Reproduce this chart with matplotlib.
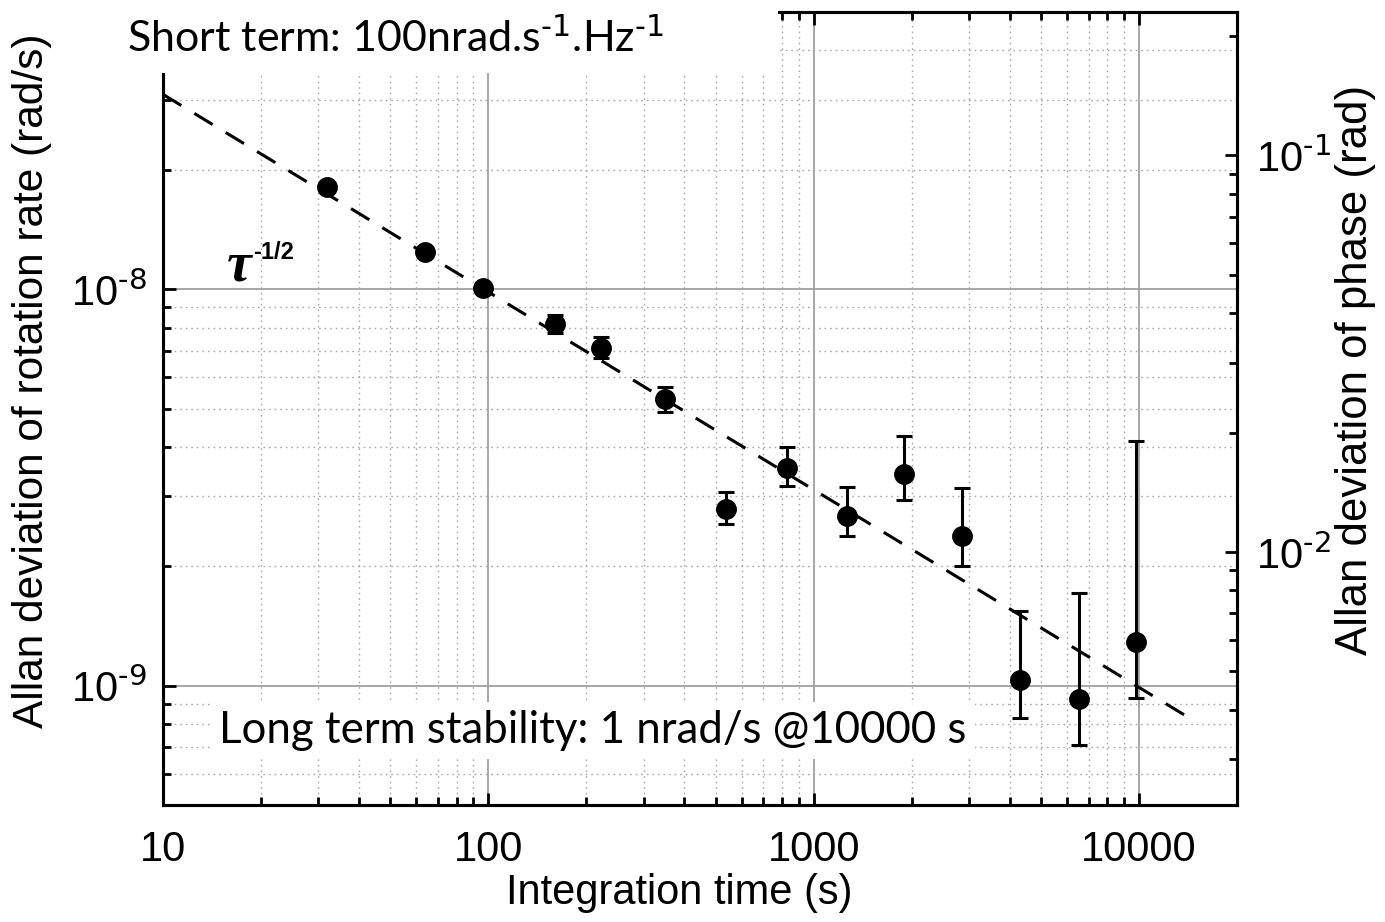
import math
import matplotlib
matplotlib.use("Agg")
import matplotlib.pyplot as plt
from matplotlib.ticker import LogLocator, FixedLocator, FuncFormatter, NullFormatter
from matplotlib.patches import Rectangle

# integration time (s) and Allan deviation of rotation rate (rad/s)
tau = [32, 64, 96, 160, 222, 349, 537, 826, 1262, 1901, 2864, 4315, 6547, 9795]
adev = [1.81e-8, 1.238e-8, 1.006e-8, 8.17e-9, 7.12e-9, 5.30e-9, 2.79e-9,
        3.54e-9, 2.68e-9, 3.42e-9, 2.38e-9, 1.035e-9, 9.28e-10, 1.289e-9]
adev_lo = [1.77e-8, 1.21e-8, 0.985e-8, 7.76e-9, 6.72e-9, 4.89e-9, 2.56e-9,
           3.19e-9, 2.38e-9, 2.94e-9, 2.00e-9, 8.31e-10, 7.07e-10, 9.33e-10]
adev_hi = [1.85e-8, 1.265e-8, 1.028e-8, 8.60e-9, 7.58e-9, 5.68e-9, 3.08e-9,
           4.00e-9, 3.17e-9, 4.26e-9, 3.15e-9, 1.54e-9, 1.71e-9, 4.13e-9]

# tau^-1/2 guide line, end points
fit_tau = [10, 13900]
fit_adev = [3.1e-8, 8.4e-10]

x_ticks = [10, 100, 1000, 10000]
phase_per_rate = 4.6e6  # rad per (rad/s), right axis scale

plt.rcParams['font.family'] = ['Liberation Sans', 'DejaVu Sans']
plt.rcParams['mathtext.default'] = 'regular'


def pow_label(v, pos):
    # 10^n with a plain hyphen in the exponent
    return r"10$^{\text{-%d}}$" % abs(round(math.log10(v)))


fig = plt.figure(figsize=(13.85, 9.22), dpi=100)
ax = fig.add_axes([0.1177, 0.1269, 0.7754, 0.860])

yerr = [[a - l for a, l in zip(adev, adev_lo)], [h - a for a, h in zip(adev, adev_hi)]]
ax.errorbar(tau, adev, yerr=yerr, fmt='o', color='black', ms=14, elinewidth=2.2,
            capsize=6, capthick=2.2, zorder=4)
ax.plot(fit_tau, fit_adev, color='black', lw=2.2, dashes=(7, 5), zorder=3)

ax.set_xscale('log')
ax.set_yscale('log')
ax.set_xlim(10, 20000)
ax.set_ylim(5e-10, 5e-8)

ax.xaxis.set_major_locator(FixedLocator(x_ticks))
ax.xaxis.set_minor_locator(LogLocator(base=10, subs=range(2, 10)))
ax.xaxis.set_major_formatter(FuncFormatter(lambda v, p: "%d" % v))
ax.xaxis.set_minor_formatter(NullFormatter())
ax.yaxis.set_major_locator(FixedLocator([1e-9, 1e-8]))
ax.yaxis.set_minor_locator(LogLocator(base=10, subs=range(2, 10)))
ax.yaxis.set_major_formatter(FuncFormatter(pow_label))
ax.yaxis.set_minor_formatter(NullFormatter())

ax.grid(which='major', color='#a0a0a0', lw=1.3, ls='-')
ax.grid(which='minor', color='#a8a8a8', lw=1.0, ls=(0, (1.2, 2.8)))
ax.set_axisbelow(True)

ax.tick_params(which='both', direction='in', top=True, right=False, width=2)
ax.tick_params(which='major', length=9, labelsize=30)
ax.tick_params(axis='x', which='major', pad=18)
ax.tick_params(axis='y', which='major', pad=12)
ax.tick_params(which='minor', length=6)
for s in ax.spines.values():
    s.set_linewidth(2.2)

ax.set_xlabel('Integration time (s)', fontsize=30)
ax.xaxis.set_label_coords(0.481, -0.086)
ax.set_ylabel('Allan deviation of rotation rate (rad/s)', fontsize=30.5)
ax.yaxis.set_label_coords(-0.103, 0.535)

ax2 = ax.twinx()
ax2.set_yscale('log')
ax2.set_ylim(5e-10 * phase_per_rate, 5e-8 * phase_per_rate)
ax2.yaxis.set_major_locator(FixedLocator([1e-2, 1e-1]))
ax2.yaxis.set_minor_locator(LogLocator(base=10, subs=range(2, 10)))
ax2.yaxis.set_major_formatter(FuncFormatter(pow_label))
ax2.yaxis.set_minor_formatter(NullFormatter())
ax2.tick_params(which='both', direction='in', width=2)
ax2.tick_params(which='major', length=9, labelsize=30, pad=14)
ax2.tick_params(which='minor', length=6)
ax2.set_ylabel('Allan deviation of phase (rad)', fontsize=31.5)
ax2.yaxis.set_label_coords(1.091, 0.549)
for s in ax2.spines.values():
    s.set_linewidth(2.2)

# tau^-1/2 label
ax.text(17.3, 1.14e-8, r'$\tau$', fontsize=40, fontweight='bold', fontstyle='italic',
        family='Liberation Serif', ha='center', va='center', zorder=6)
ax.text(21.8, 1.24e-8, '-1/2', fontsize=17, fontweight='bold', ha='center', va='center', zorder=6)

# white box hiding the top-left corner, with the short term note
fig.patches.append(Rectangle((100 / 1385, 1 - 73 / 922), 678 / 1385, 73 / 922, transform=fig.transFigure,
                             facecolor='white', edgecolor='none', zorder=10))
fig.text(127 / 1385, 1 - 38 / 922, r'Short term: 100nrad.s$^{\text{-1}}$.Hz$^{\text{-1}}$', fontsize=31,
         family='Lato', ha='left', va='center', zorder=11)

ax2.text(0.052, 0.094, 'Long term stability: 1 nrad/s @10000 s', transform=ax.transAxes,
         fontsize=31.5, family='Lato', ha='left', va='center', zorder=11,
         bbox=dict(facecolor='white', edgecolor='none', pad=6))

fig.savefig('out.png', dpi=100)
